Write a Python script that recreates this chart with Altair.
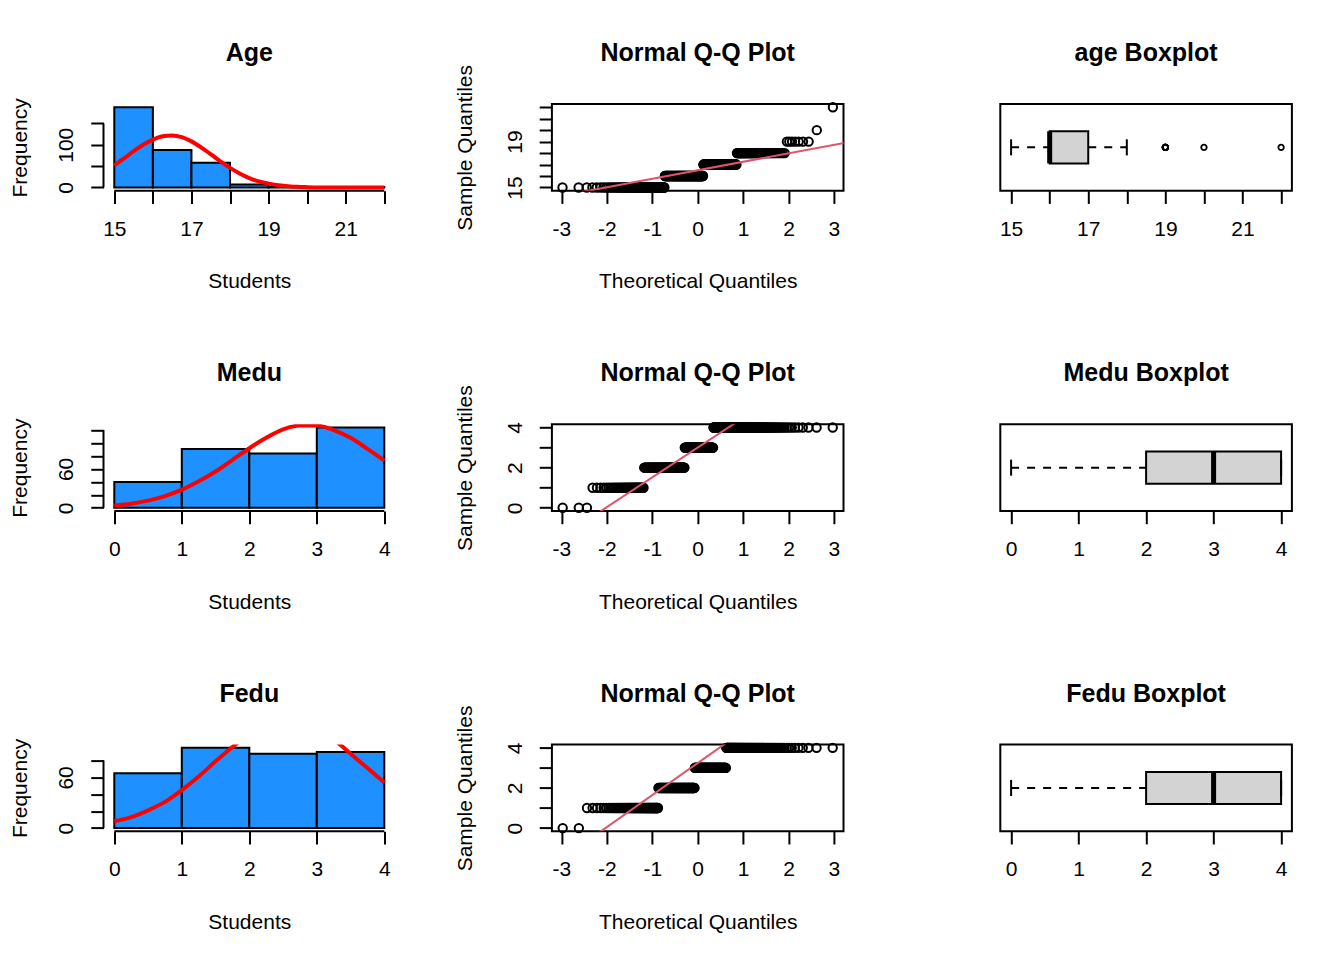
import altair as alt
import numpy as np
import pandas as pd

FONT = "Liberation Sans"
W = 291.6
H = 86.7

# histogram bins (width 1, right-closed) and bar heights
age_breaks = [15, 16, 17, 18, 19, 20, 21, 22]
age_counts = [188, 88, 58, 7, 1, 0, 1]
medu_breaks = [0, 1, 2, 3, 4]
medu_counts = [40, 91, 84, 124]
fedu_breaks = [0, 1, 2, 3, 4]
fedu_counts = [65, 95, 88, 90]

# red normal curves over the histograms
age_curve_x = [15, 15.25, 15.5, 15.75, 16, 16.25, 16.5, 16.75, 17, 17.25, 17.5, 17.75,
               18, 18.25, 18.5, 18.75, 19, 19.25, 19.5, 19.75, 20, 20.5, 21, 22]
age_curve_y = [52, 68, 85, 100, 112, 120, 122, 118, 108, 94, 78, 61,
               46, 33, 22, 14, 9, 5, 3, 1.5, 0.8, 0.2, 0, 0]
medu_curve_x = [0, 0.25, 0.5, 0.75, 1, 1.25, 1.5, 1.75, 2, 2.25, 2.5, 2.75, 3, 3.25, 3.5, 3.75, 4]
medu_curve_y = [3.5, 6.4, 11, 18, 28, 41, 56, 74, 92, 108, 121, 127, 127, 120, 108, 91, 73]
fedu_curve_x = [0, 0.25, 0.5, 0.75, 1, 1.25, 1.5, 1.75, 2, 2.25, 2.5, 2.75, 3, 3.25, 3.5, 3.75, 4]
fedu_curve_y = [8, 13, 21, 31, 45, 61, 79, 96, 111, 122, 127, 126, 118, 105, 88, 71, 54]

# number of students at each value (length of the runs in the Q-Q plots)
age_levels = [15, 16, 17, 18, 19, 20, 22]
age_level_n = [80, 108, 88, 58, 7, 1, 1]
medu_levels = [0, 1, 2, 3, 4]
medu_level_n = [3, 37, 91, 84, 124]
fedu_levels = [0, 1, 2, 3, 4]
fedu_level_n = [2, 63, 95, 88, 90]

# qqline: intercept, slope
age_qqline = (16.5, 0.741)
medu_qqline = (3.0, 1.483)
fedu_qqline = (3.24, 1.595)

# boxplots: lower whisker, Q1, median, Q3, upper whisker; outliers
age_box = [15, 16, 16, 17, 18]
age_out = [19, 20, 22]
age_out_n = [7, 1, 1]
medu_box = [0, 2, 3, 4, 4]
fedu_box = [0, 2, 3, 4, 4]


def pad(lo, hi):
    d = (hi - lo) * 0.04
    return [lo - d, hi + d]


def scale(dom):
    return alt.Scale(domain=dom, nice=False, zero=False)


def label_expr(shown):
    return f"indexof({list(shown)}, datum.value) >= 0 ? '' + datum.value : ''"


def bottom_axis(values, shown, title=""):
    kw = dict(values=values, labelExpr=label_expr(shown), domain=False, grid=False,
              tickSize=12.7, tickWidth=2, tickColor="black",
              labelFont=FONT, labelFontSize=21, labelColor="black", labelAngle=0,
              labelAlign="center", labelBaseline="alphabetic", labelPadding=31.8,
              labelOverlap=False, labelFlush=False, labelBound=False, title=title)
    if title:
        kw.update(titleFont=FONT, titleFontSize=21, titleFontWeight="normal",
                  titleColor="black", titleX=W / 2, titleY=97, titleAlign="center",
                  titleBaseline="alphabetic", titleAngle=0)
    return alt.Axis(**kw)


def left_axis(values, shown, title, title_x=-80):
    return alt.Axis(values=values, labelExpr=label_expr(shown), domain=False, grid=False,
                    tickSize=12.7, tickWidth=2, tickColor="black",
                    labelFont=FONT, labelFontSize=21, labelColor="black", labelAngle=270,
                    labelAlign="center", labelBaseline="alphabetic", labelPadding=17.9,
                    labelOverlap=False, labelFlush=False, labelBound=False,
                    title=title, titleFont=FONT, titleFontSize=21, titleFontWeight="normal",
                    titleColor="black", titleX=title_x, titleY=H / 2, titleAlign="center",
                    titleBaseline="alphabetic", titleAngle=270)


def main_title(text):
    # bold title, baseline 43px above the plot region
    return alt.Chart(pd.DataFrame({"t": [text]})).mark_text(
        font=FONT, fontSize=25, fontWeight="bold", color="black",
        align="center", baseline="alphabetic"
    ).encode(text="t:N", x=alt.value(W / 2), y=alt.value(-43))


def hist_panel(name, breaks, counts, cx, cy, xvals, xshown, yvals, yshown):
    xs = scale(pad(breaks[0], breaks[-1]))
    ys = scale(pad(0, max(counts)))
    xa = bottom_axis(xvals, xshown, "Students")
    ya = left_axis(yvals, yshown, "Frequency", title_x=-77)
    bars = pd.DataFrame({"start": breaks[:-1], "end": breaks[1:], "count": counts})
    rects = alt.Chart(bars).mark_rect(fill="#1E90FF", stroke="black", strokeWidth=2).encode(
        x=alt.X("start:Q", scale=xs, axis=xa),
        x2="end:Q",
        y=alt.Y("count:Q", scale=ys, axis=ya),
        y2=alt.datum(0),
    )
    curve = alt.Chart(pd.DataFrame({"x": cx, "y": cy})).mark_line(
        color="red", strokeWidth=4, clip=True, interpolate="monotone"
    ).encode(
        x=alt.X("x:Q", scale=xs, axis=xa),
        y=alt.Y("y:Q", scale=ys, axis=ya),
    )
    xline = alt.Chart(pd.DataFrame({"a": [xvals[0]], "b": [xvals[-1]]})).mark_rule(
        color="black", strokeWidth=2
    ).encode(x=alt.X("a:Q", scale=xs, axis=xa), x2="b:Q", y=alt.value(H))
    yline = alt.Chart(pd.DataFrame({"a": [yvals[0]], "b": [yvals[-1]]})).mark_rule(
        color="black", strokeWidth=2
    ).encode(y=alt.Y("a:Q", scale=ys, axis=ya), y2="b:Q", x=alt.value(0))
    return alt.layer(rects, curve, xline, yline, main_title(name)).properties(width=W, height=H)


def qq_panel(levels, level_n, line, ydom, yvals, yshown):
    xs = scale([-3.21, 3.21])
    ys = scale(ydom)
    qx = [-3, -2, -1, 0, 1, 2, 3]
    xa = bottom_axis(qx, qx, "Theoretical Quantiles")
    ya = left_axis(yvals, yshown, "Sample Quantiles")
    pts = pd.DataFrame({"value": np.repeat(levels, level_n)})
    points = alt.Chart(pts).transform_window(
        rank="row_number()", sort=[alt.SortField("value", order="ascending")]
    ).transform_joinaggregate(
        n="count()"
    ).transform_calculate(
        theo="quantileNormal((datum.rank - 0.5) / datum.n)"
    ).mark_point(shape="circle", filled=False, color="black", strokeWidth=2,
                 size=70, opacity=1).encode(
        x=alt.X("theo:Q", scale=xs, axis=xa),
        y=alt.Y("value:Q", scale=ys, axis=ya),
    )
    a, b = line
    qline = alt.Chart(pd.DataFrame({"x": [-4, 4]})).transform_calculate(
        y=f"{a} + {b} * datum.x"
    ).mark_line(color="#DF536B", strokeWidth=2, clip=True).encode(
        x=alt.X("x:Q", scale=xs, axis=xa),
        y=alt.Y("y:Q", scale=ys, axis=ya),
    )
    return alt.layer(points, qline, main_title("Normal Q-Q Plot")).properties(
        width=W, height=H,
        view=alt.ViewBackground(stroke="black", strokeWidth=2),
    )


def box_panel(name, five, xdom, xvals, xshown, outliers=None, out_n=None):
    lo, q1, med, q3, hi = five
    xs = scale(xdom)
    ys = scale([0.46, 1.54])
    xa = bottom_axis(xvals, xshown)
    stats = pd.DataFrame({"lo": [lo], "q1": [q1], "med": [med], "q3": [q3], "hi": [hi]})
    whisk = alt.Chart(pd.DataFrame({"s": [lo, q3], "e": [q1, hi]})).mark_rule(
        color="black", strokeWidth=2, strokeDash=[8, 8]
    ).encode(
        x=alt.X("s:Q", scale=xs, axis=xa),
        x2="e:Q",
        y=alt.YDatum(1, scale=ys, axis=None),
    )
    box = alt.Chart(stats).mark_rect(fill="#D3D3D3", stroke="black", strokeWidth=2).encode(
        x=alt.X("q1:Q", scale=xs, axis=xa),
        x2="q3:Q",
        y=alt.YDatum(0.8, scale=ys, axis=None),
        y2=alt.datum(1.2),
    )
    median = alt.Chart(stats).mark_rule(color="black", strokeWidth=5).encode(
        x=alt.X("med:Q", scale=xs, axis=xa),
        y=alt.YDatum(0.8, scale=ys, axis=None),
        y2=alt.datum(1.2),
    )
    staples = alt.Chart(pd.DataFrame({"v": [lo, hi]})).mark_rule(
        color="black", strokeWidth=2
    ).encode(
        x=alt.X("v:Q", scale=xs, axis=xa),
        y=alt.YDatum(0.9, scale=ys, axis=None),
        y2=alt.datum(1.1),
    )
    layers = [whisk, box, median, staples]
    if outliers:
        outs = pd.DataFrame({"v": np.repeat(outliers, out_n)})
        layers.append(
            alt.Chart(outs).mark_point(shape="circle", filled=False, color="black",
                                       strokeWidth=1.8, size=30, opacity=1).encode(
                x=alt.X("v:Q", scale=xs, axis=xa),
                y=alt.YDatum(1, scale=ys, axis=None),
            )
        )
    layers.append(main_title(name))
    return alt.layer(*layers).properties(
        width=W, height=H,
        view=alt.ViewBackground(stroke="black", strokeWidth=2),
    )


age_ticks = [15, 16, 17, 18, 19, 20, 21, 22]
odd_ticks = [15, 17, 19, 21]
edu_ticks = [0, 1, 2, 3, 4]

panels = [
    hist_panel("Age", age_breaks, age_counts, age_curve_x, age_curve_y,
               age_ticks, odd_ticks, [0, 50, 100, 150], [0, 100]),
    qq_panel(age_levels, age_level_n, age_qqline, pad(15, 22), age_ticks, [15, 19]),
    box_panel("age Boxplot", age_box, pad(15, 22), age_ticks, odd_ticks, age_out, age_out_n),
    hist_panel("Medu", medu_breaks, medu_counts, medu_curve_x, medu_curve_y,
               edu_ticks, edu_ticks, [0, 20, 40, 60, 80, 100, 120], [0, 60]),
    qq_panel(medu_levels, medu_level_n, medu_qqline, pad(0, 4), edu_ticks, [0, 2, 4]),
    box_panel("Medu Boxplot", medu_box, pad(0, 4), edu_ticks, edu_ticks),
    hist_panel("Fedu", fedu_breaks, fedu_counts, fedu_curve_x, fedu_curve_y,
               edu_ticks, edu_ticks, [0, 20, 40, 60, 80], [0, 60]),
    qq_panel(fedu_levels, fedu_level_n, fedu_qqline, pad(0, 4), edu_ticks, [0, 2, 4]),
    box_panel("Fedu Boxplot", fedu_box, pad(0, 4), edu_ticks, edu_ticks),
]

chart = alt.concat(
    *panels, columns=3, spacing={"row": 233.3, "column": 156.4}, bounds="flush"
).properties(
    autosize=alt.AutoSizeParams(type="none"),
    padding={"left": 95.5, "top": 96, "right": 1230, "bottom": 850},
    background="white",
).configure_view(stroke="transparent")

chart.save("out.html", embed_options={"renderer": "svg", "actions": False})
